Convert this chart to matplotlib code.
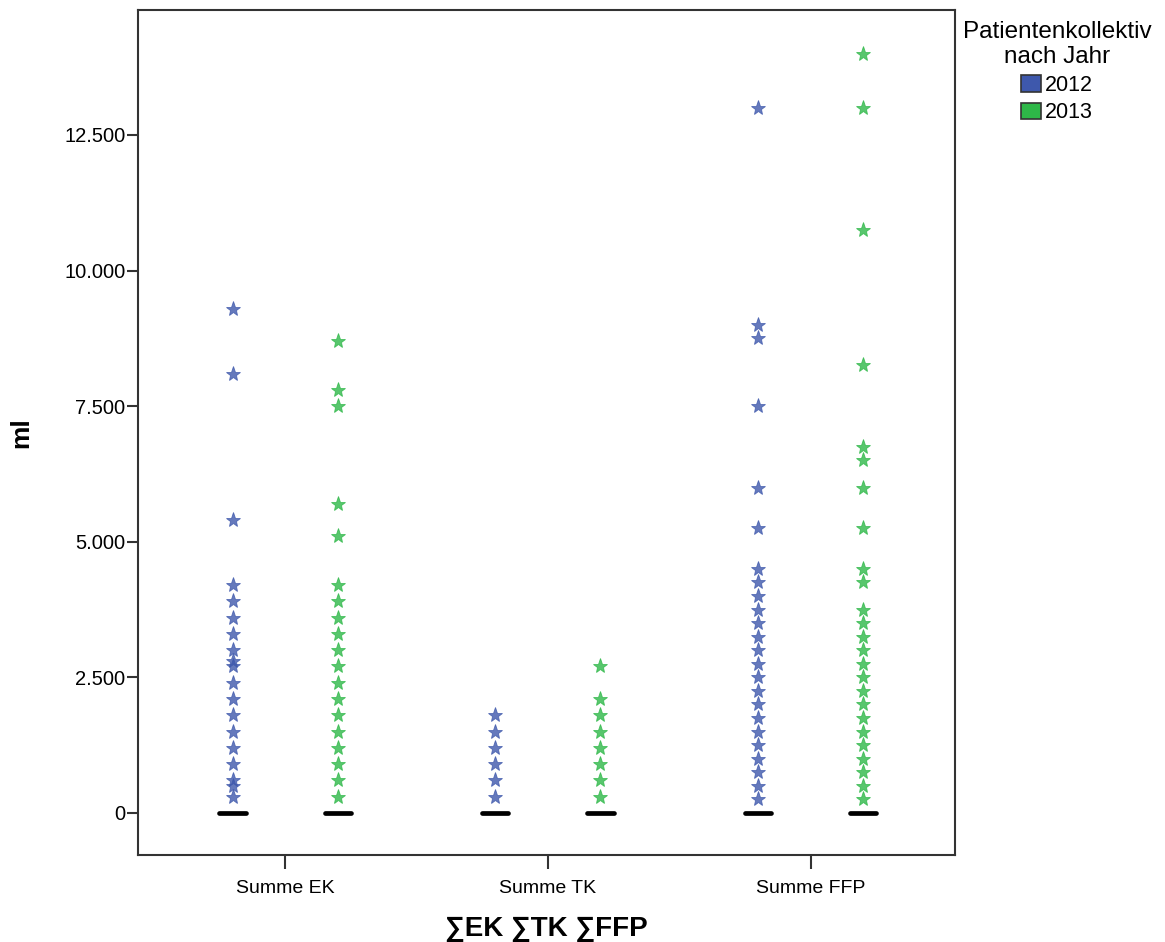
import numpy as np
import matplotlib
matplotlib.use("Agg")
import matplotlib.pyplot as plt
from matplotlib.patches import Patch
from matplotlib.ticker import FuncFormatter

plt.rcParams['font.family'] = ['Liberation Sans', 'DejaVu Sans']

categories = ["Summe EK", "Summe TK", "Summe FFP"]
years = ["2012", "2013"]
colors = ["#3E58AC", "#2EB848"]

# extreme outliers (stars), in ml
ek_2012 = [9300, 8100, 5400, 4200, 3900, 3600, 3300, 3000, 2800, 2700, 2400,
           2100, 1800, 1500, 1200, 900, 600, 500, 300]
ek_2013 = [8700, 7800, 7500, 5700, 5100, 4200, 3900, 3600, 3300, 3000, 2700,
           2400, 2100, 1800, 1500, 1200, 900, 600, 300]
tk_2012 = [1800, 1500, 1200, 900, 600, 300]
tk_2013 = [2700, 2100, 1800, 1500, 1200, 900, 600, 300]
ffp_2012 = [13000, 9000, 8750, 7500, 6000, 5250, 4500, 4250, 4000, 3750, 3500,
            3250, 3000, 2750, 2500, 2250, 2000, 1750, 1500, 1250, 1000, 750,
            500, 250]
ffp_2013 = [14000, 13000, 10750, 8250, 6750, 6500, 6000, 5250, 4500, 4250,
            3750, 3500, 3250, 3000, 2750, 2500, 2250, 2000, 1750, 1500, 1250,
            1000, 750, 500, 250]
outliers = [[ek_2012, ek_2013], [tk_2012, tk_2013], [ffp_2012, ffp_2013]]

# box collapses to the median (all quartiles 0)
medians = [[0, 0], [0, 0], [0, 0]]

yticks = [0, 2500, 5000, 7500, 10000, 12500]

fig = plt.figure(figsize=(11.65, 9.42), dpi=100)
ax = fig.add_axes([0.1185, 0.0924, 0.7013, 0.897])

offs = [-0.2, 0.2]
for i, cat in enumerate(categories):
    for j in range(2):
        xpos = i + offs[j]
        vals = outliers[i][j]
        ax.plot([xpos] * len(vals), vals, linestyle="none", marker="*",
                markersize=11, color=colors[j], alpha=0.8,
                markeredgewidth=0.6)
        ax.hlines(medians[i][j], xpos - 0.05, xpos + 0.05, color="black",
                  linewidth=3.4, capstyle="round", zorder=3)

ax.set_xlim(-0.56, 2.55)
ax.set_ylim(-775, 14805)
ax.set_xticks(range(len(categories)))
ax.set_xticklabels(categories, fontsize=14)
ax.set_yticks(yticks)
ax.yaxis.set_major_formatter(FuncFormatter(lambda v, p: f"{v:,.0f}".replace(",", ".")))
ax.tick_params(axis="y", labelsize=14.5, length=8, width=1.5, color="#333333", pad=1)
ax.tick_params(axis="x", length=10, width=1.5, color="#333333", pad=8)
for s in ax.spines.values():
    s.set_linewidth(1.5)
    s.set_color("#333333")

ax.set_ylabel("ml", fontsize=19, fontweight="bold")
ax.yaxis.set_label_coords(-0.128, 0.5)
ax.set_xlabel("∑EK ∑TK ∑FFP", fontsize=20, fontweight="bold")
ax.xaxis.set_label_coords(0.5, -0.072)

handles = [Patch(facecolor=colors[k], edgecolor="#333333", linewidth=1.2, label=years[k])
           for k in range(2)]
leg = fig.legend(handles=handles, title="Patientenkollektiv\nnach Jahr",
                 loc="upper center", bbox_to_anchor=(1057 / 1165, 1 - 8 / 942),
                 frameon=False, fontsize=15.5, title_fontsize=17.5,
                 handlelength=0.9, handleheight=0.8, handletextpad=0.2,
                 labelspacing=0.3, borderpad=0.1)
leg.get_title().set_multialignment("center")

fig.savefig("out.png", dpi=100)
